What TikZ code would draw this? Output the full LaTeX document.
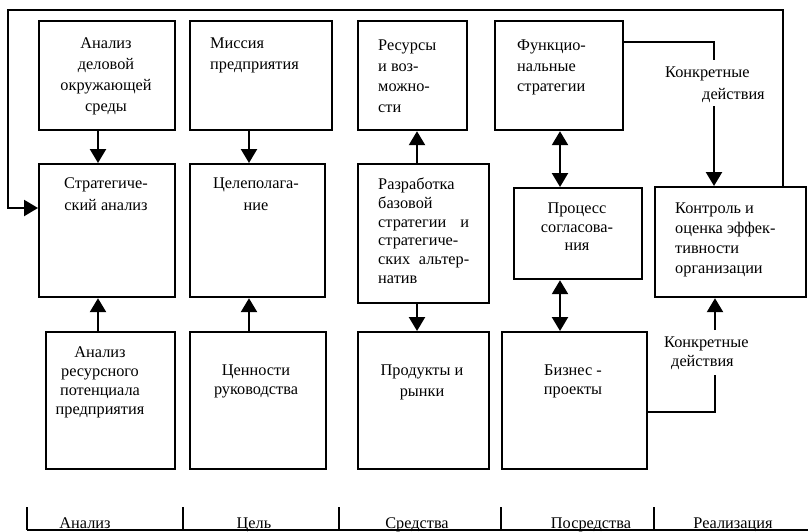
\documentclass[tikz,border=0pt]{standalone}
\usepackage{fontspec}
\setmainfont{Liberation Serif}
\usetikzlibrary{arrows.meta}
\begin{document}
\begin{tikzpicture}[x=1pt,y=-1pt,
  box/.style={draw,line width=2.2pt,inner sep=0,anchor=north west},
  ctxt/.style={inner sep=0,anchor=north,align=center,font=\fontsize{16.3}{21}\selectfont},
  ltxt/.style={inner sep=0,anchor=north west,align=left,font=\fontsize{16.3}{21}\selectfont},
  conn/.style={line width=2.2pt},
  arr/.style={line width=2.4pt,-{Triangle[width=16pt,length=14pt]}},
  darr/.style={line width=2.4pt,{Triangle[width=16pt,length=14pt]}-{Triangle[width=16pt,length=14pt]}},
  axis/.style={line width=1.8pt}]
\useasboundingbox (0,0) rectangle (808,531);
% boxes
\node[box,minimum width=136pt,minimum height=109pt] (a1) at (38,20) {};
\node[box,minimum width=142pt,minimum height=109pt] (b1) at (189,20) {};
\node[box,minimum width=109pt,minimum height=109pt] (c1) at (357,20) {};
\node[box,minimum width=128pt,minimum height=109pt] (d1) at (494,20) {};
\node[box,minimum width=136pt,minimum height=133pt] (a2) at (38,163) {};
\node[box,minimum width=135pt,minimum height=133pt] (b2) at (189,163) {};
\node[box,minimum width=131pt,minimum height=139pt] (c2) at (357,163) {};
\node[box,minimum width=128pt,minimum height=91pt] (d2) at (513,187) {};
\node[box,minimum width=151pt,minimum height=110pt] (e2) at (654,186) {};
\node[box,minimum width=129pt,minimum height=137pt] (a3) at (45,331) {};
\node[box,minimum width=136pt,minimum height=137pt] (b3) at (189,331) {};
\node[box,minimum width=131pt,minimum height=137pt] (c3) at (357,331) {};
\node[box,minimum width=145pt,minimum height=137pt] (d3) at (501,331) {};
% texts
\node[ctxt] (a1t) at (106,38) {Анализ\\деловой\\окружающей\\среды};
\node[ltxt] (b1t) at (210,38) {Миссия\\предприятия};
\node[ltxt,font=\fontsize{16.3}{20.5}\selectfont] (c1t) at (378,40) {Ресурсы\\и воз-\\можно-\\сти};
\node[ltxt,font=\fontsize{16.3}{20.5}\selectfont] (d1t) at (517,40) {Функцио-\\нальные\\стратегии};
\node[ctxt,font=\fontsize{16.3}{21.5}\selectfont] (a2t) at (106,178) {Стратегиче-\\ский анализ};
\node[ctxt,font=\fontsize{16.3}{21.5}\selectfont] (b2t) at (256,178) {Целеполага-\\ние};
\node[ltxt,text width=91pt,font=\fontsize{16.3}{18.7}\selectfont] (c2t) at (378,178) {Разработка\\базовой\\стратегии\hfill и\\стратегиче-\\ских\hfill альтер-\\натив};
\node[ctxt,font=\fontsize{16.3}{18.3}\selectfont] (d2t) at (577,203) {Процесс\\согласова-\\ния};
\node[ltxt,font=\fontsize{16.3}{20}\selectfont] (e2t) at (675,203) {Контроль и\\оценка эффек-\\тивности\\организации};
\node[ctxt,font=\fontsize{16.3}{19}\selectfont] (a3t) at (100,347) {Анализ\\ресурсного\\потенциала\\предприятия};
\node[ctxt,font=\fontsize{16.3}{19}\selectfont] (b3t) at (256,365) {Ценности\\руководства};
\node[ctxt] (c3t) at (422,365) {Продукты и\\рынки};
\node[ctxt,font=\fontsize{16.3}{19}\selectfont] (d3t) at (573,365) {Бизнес -\\проекты};
% labels
\node[ltxt] (k1a) at (665,67) {Конкретные};
\node[ltxt] (k1b) at (702,88) {действия};
\node[ltxt] (k2a) at (664,337) {Конкретные};
\node[ltxt] (k2b) at (671,355) {действия};
% arrow x positions
\coordinate (ax) at (98,0);
\coordinate (bx) at (249,0);
\coordinate (cx) at (417,0);
\coordinate (dx) at (560,0);
\coordinate (fx) at (783,0);
% vertical arrows
\draw[arr] (a1.south -| ax) -- (a2.north -| ax);
\draw[arr] (a3.north -| ax) -- (a2.south -| ax);
\draw[arr] (b1.south -| bx) -- (b2.north -| bx);
\draw[arr] (b3.north -| bx) -- (b2.south -| bx);
\draw[arr] (c2.north -| cx) -- (c1.south -| cx);
\draw[arr] (c2.south -| cx) -- (c3.north -| cx);
\draw[darr] (d1.south -| dx) -- (d2.north -| dx);
\draw[darr] (d2.south -| dx) -- (d3.north -| dx);
% concrete actions
\coordinate (p1) at (714,42);
\coordinate (p2) at (714,60);
\coordinate (p3) at (714,106);
\draw[conn] (d1.east |- p1) -- (p1) -- (p2);
\draw[arr] (p3) -- (e2.north -| p3);
\coordinate (q1) at (715,412);
\coordinate (q2) at (715,375);
\coordinate (q3) at (715,330);
\draw[conn] (d3.east |- q1) -- (q1) -- (q2);
\draw[arr] (q3) -- (e2.south -| q3);
% feedback loop
\coordinate (r1) at (783,10);
\coordinate (r2) at (8,10);
\coordinate (r3) at (8,208);
\draw[arr,line width=2.2pt] (e2.north -| fx) -- (r1) -- (r2) -- (r3) -- (a2.west |- r3);
% bottom axis
\coordinate (t0) at (27,530);
\coordinate (t1) at (183,530);
\coordinate (t2) at (339,530);
\coordinate (t3) at (501,530);
\coordinate (t4) at (654,530);
\coordinate (tend) at (808,530);
\draw[axis] (t0) -- (tend);
\foreach \t in {t0,t1,t2,t3,t4} \draw[axis] (\t) -- ++(0,-23);
\node[inner sep=0,anchor=base,font=\fontsize{16.3}{19}\selectfont] (l1) at (85,528) {Анализ};
\node[inner sep=0,anchor=base,font=\fontsize{16.3}{19}\selectfont] (l2) at (254,528) {Цель};
\node[inner sep=0,anchor=base,font=\fontsize{16.3}{19}\selectfont] (l3) at (417,528) {Средства};
\node[inner sep=0,anchor=base,font=\fontsize{16.3}{19}\selectfont] (l4) at (591,528) {Посредства};
\node[inner sep=0,anchor=base,font=\fontsize{16.3}{19}\selectfont] (l5) at (733,528) {Реализация};
\end{tikzpicture}
\end{document}
